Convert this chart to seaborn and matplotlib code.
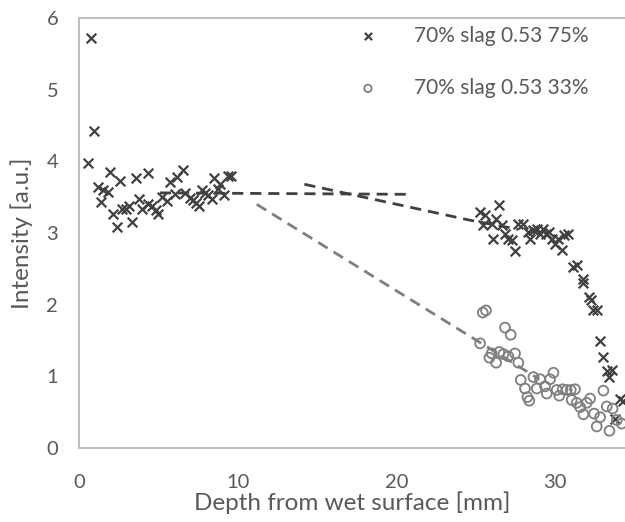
import matplotlib
matplotlib.use("Agg")
import matplotlib.pyplot as plt
import seaborn as sns
import pandas as pd

# ---- data ----
x75 = [0.76, 0.97, 0.59, 1.18, 1.53, 1.81, 1.39, 1.95, 2.58, 2.16, 2.37, 2.73, 2.94, 3.17,
       3.36, 3.59, 3.78, 3.95, 4.33, 4.33, 4.60, 4.85, 4.96, 5.21, 5.52, 5.73, 6.05, 6.15,
       6.57, 6.68, 6.99, 7.16, 7.37, 7.56, 7.73, 7.94, 8.11, 8.36, 8.51, 8.78, 8.88, 9.16,
       9.37, 9.56,
       25.27, 25.58, 26.48, 25.48, 26.00, 26.28, 26.63, 26.06, 26.84, 27.05, 27.26, 27.47,
       27.68, 28.00, 28.31, 28.42, 28.63, 28.88, 29.05, 29.26, 29.43, 29.64, 29.79, 30.00,
       30.20, 30.41, 30.56, 30.83, 31.10, 31.36, 31.74, 31.78, 32.16, 32.24, 32.41, 32.62,
       32.83, 33.04, 33.25, 33.57, 33.42, 34.09, 34.26, 33.77]
y75 = [5.72, 4.42, 3.97, 3.64, 3.60, 3.57, 3.43, 3.85, 3.72, 3.26, 3.08, 3.33, 3.33, 3.37,
       3.15, 3.77, 3.48, 3.33, 3.84, 3.40, 3.37, 3.32, 3.26, 3.50, 3.44, 3.71, 3.55, 3.78,
       3.88, 3.56, 3.49, 3.46, 3.42, 3.37, 3.60, 3.56, 3.53, 3.48, 3.77, 3.61, 3.69, 3.53,
       3.79, 3.79,
       3.30, 3.25, 3.39, 3.11, 3.13, 3.20, 3.11, 2.91, 2.99, 2.92, 2.90, 2.75,
       3.13, 3.12, 3.02, 2.92, 3.04, 3.06, 2.99, 3.05, 2.99, 3.02, 2.92, 2.85,
       2.92, 2.76, 2.97, 2.99, 2.52, 2.55, 2.36, 2.30, 2.11, 2.06, 1.92, 1.92,
       1.50, 1.27, 1.08, 1.09, 0.99, 0.69, 0.66, 0.41]

x33 = [25.44, 25.64, 26.84, 27.20, 25.27, 26.00, 25.86, 26.28, 26.48, 26.74, 27.05, 27.47,
       27.68, 27.83, 28.10, 28.25, 28.37, 28.63, 28.84, 29.05, 29.36, 29.47, 29.68, 29.89,
       30.10, 30.26, 30.47, 30.73, 30.98, 31.25, 31.04, 31.36, 31.57, 31.78, 31.99, 32.20,
       32.45, 32.62, 32.83, 33.04, 33.25, 33.62, 33.42, 33.88, 34.19]
y33 = [1.89, 1.92, 1.68, 1.58, 1.46, 1.32, 1.26, 1.19, 1.34, 1.31, 1.28, 1.32,
       1.19, 0.95, 0.83, 0.71, 0.66, 0.99, 0.83, 0.96, 0.86, 0.76, 0.96, 1.05,
       0.81, 0.73, 0.82, 0.81, 0.81, 0.82, 0.67, 0.63, 0.57, 0.47, 0.63, 0.69,
       0.48, 0.30, 0.43, 0.80, 0.58, 0.55, 0.24, 0.39, 0.34]

trend75a_x = [5.1, 20.6]
trend75a_y = [3.56, 3.54]
trend75b_x = [14.2, 24.6, 27.7]
trend75b_y = [3.68, 3.18, 3.05]
trend33_x = [11.2, 29.0]
trend33_y = [3.40, 0.96]

label75 = "70% slag 0.53 75%"
label33 = "70% slag 0.53 33%"

# ---- styling ----
sns.set_theme(style="white")
plt.rcParams['font.family'] = ['Lato', 'DejaVu Sans']
dark = "#404040"
grey = "#7f7f7f"
axis_col = "#bfbfbf"
text_col = "#595959"

fig = plt.figure(figsize=(6.25, 5.22), dpi=100)
ax = fig.add_axes([79/625, 74/522, 1 - 79/625, 430/522])

df75 = pd.DataFrame({"x": x75, "y": y75})
df33 = pd.DataFrame({"x": x33, "y": y33})

sns.lineplot(x=trend75a_x, y=trend75a_y, ax=ax, color=dark, linewidth=2,
             linestyle=(0, (4, 2.5)), sort=False, estimator=None)
sns.lineplot(x=trend75b_x, y=trend75b_y, ax=ax, color=dark, linewidth=2,
             linestyle=(0, (4, 2.5)), sort=False, estimator=None)
sns.lineplot(x=trend33_x, y=trend33_y, ax=ax, color=grey, linewidth=2,
             linestyle=(0, (4, 2.5)), sort=False, estimator=None)

sns.scatterplot(data=df75, x="x", y="y", ax=ax, marker="x", color=dark,
                s=48, linewidth=1.6, label=label75, zorder=3)
sns.scatterplot(data=df33, x="x", y="y", ax=ax, marker="o", s=50,
                facecolor="none", edgecolor=grey, linewidth=1.3, label=label33, zorder=3)

ax.set_xlim(0, 34.4)
ax.set_ylim(0, 6)
ax.set_xticks([0, 10, 20, 30])
ax.set_yticks([0, 1, 2, 3, 4, 5, 6])

for side in ["left", "bottom", "top"]:
    ax.spines[side].set_color(axis_col)
    ax.spines[side].set_linewidth(1.5)
ax.spines["right"].set_visible(False)

ax.tick_params(axis="both", which="both", direction="out", length=7, width=1.5,
               color=axis_col, labelcolor=text_col, labelsize=14.5, pad=8)
ax.tick_params(axis="x", pad=12)

ax.set_xlabel("Depth from wet surface [mm]", fontsize=17.5, color=text_col, labelpad=0)
ax.set_ylabel("Intensity [a.u.]", fontsize=17.5, color=text_col, labelpad=10)

leg = ax.legend(loc="upper left", bbox_to_anchor=(0.472, 1.026), frameon=False,
                fontsize=15, labelspacing=1.55, handletextpad=1.6, handlelength=1.2,
                markerscale=0.75)
for t in leg.get_texts():
    t.set_color(text_col)

fig.savefig("out.png", dpi=100)
